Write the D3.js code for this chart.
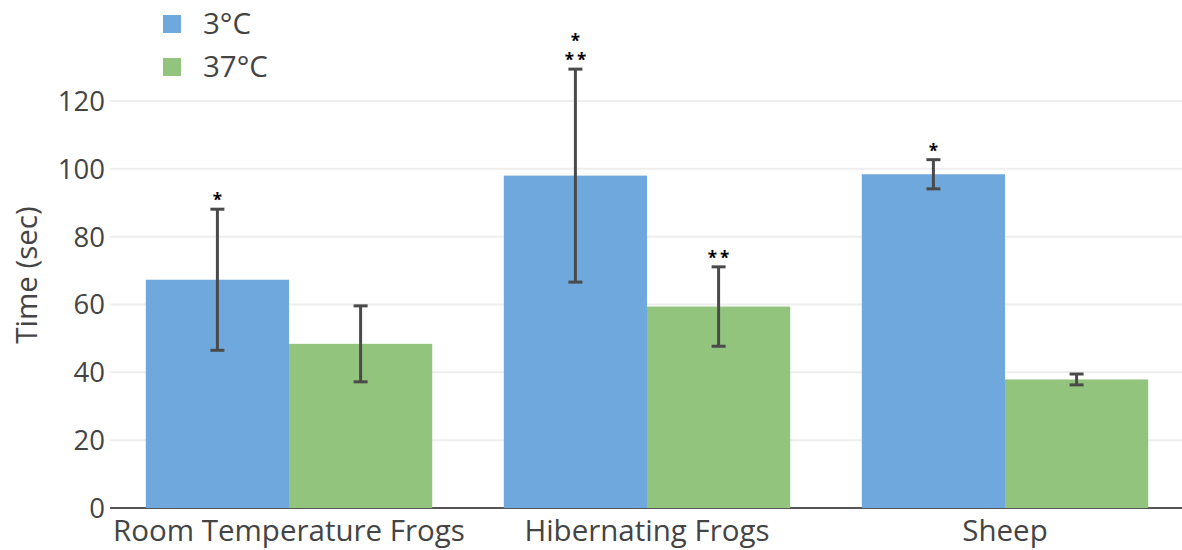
<!DOCTYPE html>
<html>
<head>
<meta charset="utf-8">
<script src="https://cdn.jsdelivr.net/npm/d3@7"></script>
<style>
  body { margin: 0; background: #fff; }
  svg { display: block; font-family: "Open Sans", sans-serif; }
</style>
</head>
<body>
<svg id="chart"></svg>
<script>
const categories = ["Room Temperature Frogs", "Hibernating Frogs", "Sheep"];
const seriesNames = ["3°C", "37°C"];
const coldValues = [67.3, 98.0, 98.4];
const coldErrors = [20.8, 31.4, 4.3];
const warmValues = [48.4, 59.4, 37.9];
const warmErrors = [11.2, 11.7, 1.6];
const coldStars = [["*"], ["*", "**"], ["*"]];
const warmStars = [[], ["**"], []];
const yTicks = [0, 20, 40, 60, 80, 100, 120];

const width = 1182, height = 550;
const margin = { top: 0, right: -2, bottom: 42, left: 110 };
const colors = ["#6fa8dc", "#93c47d"];
const labelSize = 29.5;

const svg = d3.select("#chart").attr("width", width).attr("height", height);

const x = d3.scaleBand()
    .domain(categories)
    .range([margin.left, width - margin.right])
    .paddingInner(0.2)
    .paddingOuter(0.1);

const xSub = d3.scaleBand()
    .domain(seriesNames)
    .range([0, x.bandwidth()]);

const y = d3.scaleLinear()
    .domain([0, 120])
    .range([508, 101]);

// grid
svg.append("g")
    .selectAll("line")
    .data(yTicks.filter(d => d > 0))
    .join("line")
    .attr("x1", margin.left)
    .attr("x2", width)
    .attr("y1", d => y(d))
    .attr("y2", d => y(d))
    .attr("stroke", "#eeeeee")
    .attr("stroke-width", 2);

// zero line
svg.append("line")
    .attr("x1", margin.left)
    .attr("x2", width)
    .attr("y1", y(0))
    .attr("y2", y(0))
    .attr("stroke", "#555")
    .attr("stroke-width", 2);

const series = [
    { name: seriesNames[0], values: coldValues, errors: coldErrors, stars: coldStars, color: colors[0] },
    { name: seriesNames[1], values: warmValues, errors: warmErrors, stars: warmStars, color: colors[1] }
];

const rows = [];
series.forEach(s => {
    categories.forEach((c, i) => {
        rows.push({ cat: c, name: s.name, value: s.values[i], err: s.errors[i], stars: s.stars[i], color: s.color });
    });
});

const cx = d => x(d.cat) + xSub(d.name) + xSub.bandwidth() / 2;

svg.append("g")
    .selectAll("rect")
    .data(rows)
    .join("rect")
    .attr("x", d => x(d.cat) + xSub(d.name))
    .attr("width", xSub.bandwidth())
    .attr("y", d => y(d.value))
    .attr("height", d => y(0) - y(d.value))
    .attr("fill", d => d.color);

// error bars
const err = svg.append("g")
    .attr("stroke", "#4a4a4a")
    .attr("stroke-width", 3);

err.selectAll(".stem")
    .data(rows)
    .join("line")
    .attr("x1", cx).attr("x2", cx)
    .attr("y1", d => y(d.value + d.err))
    .attr("y2", d => y(d.value - d.err));

err.selectAll(".capTop")
    .data(rows)
    .join("line")
    .attr("x1", d => cx(d) - 7).attr("x2", d => cx(d) + 7)
    .attr("y1", d => y(d.value + d.err))
    .attr("y2", d => y(d.value + d.err));

err.selectAll(".capBottom")
    .data(rows)
    .join("line")
    .attr("x1", d => cx(d) - 7).attr("x2", d => cx(d) + 7)
    .attr("y1", d => y(d.value - d.err))
    .attr("y2", d => y(d.value - d.err));

// significance marks, one text per bar, lines as tspans
svg.append("g")
    .attr("font-size", 17)
    .attr("font-weight", 700)
    .attr("letter-spacing", "3px")
    .attr("fill", "#000")
    .attr("text-anchor", "middle")
    .selectAll("text")
    .data(rows.filter(d => d.stars.length))
    .join("text")
    .each(function(d) {
        const n = d.stars.length;
        const t = d3.select(this);
        d.stars.forEach((s, k) => {
            t.append("tspan")
                .attr("x", cx(d) + 1.5)
                .attr("y", y(d.value + d.err) - 3 - (n - 1 - k) * 19)
                .text(s);
        });
    });

// y axis ticks
svg.append("g")
    .selectAll("text")
    .data(yTicks)
    .join("text")
    .attr("x", 105)
    .attr("y", d => y(d))
    .attr("dy", "0.36em")
    .attr("text-anchor", "end")
    .attr("font-size", 27.5)
    .attr("fill", "#444")
    .text(d => d);

// x labels
svg.append("g")
    .selectAll("text")
    .data(categories)
    .join("text")
    .attr("x", d => x(d) + x.bandwidth() / 2)
    .attr("y", 541)
    .attr("text-anchor", "middle")
    .attr("font-size", labelSize)
    .attr("fill", "#444")
    .text(d => d);

// y title
svg.append("text")
    .attr("transform", "translate(27,275) rotate(-90)")
    .attr("dy", "0.35em")
    .attr("text-anchor", "middle")
    .attr("font-size", labelSize)
    .attr("fill", "#444")
    .text("Time (sec)");

// legend
const legend = svg.append("g").attr("transform", "translate(163,0)");
seriesNames.forEach((name, i) => {
    const ly = 24 + i * 43;
    legend.append("rect")
        .attr("x", 0).attr("y", ly - 9)
        .attr("width", 18).attr("height", 18)
        .attr("fill", colors[i]);
    legend.append("text")
        .attr("x", 40).attr("y", ly)
        .attr("dy", "0.35em")
        .attr("font-size", labelSize)
        .attr("fill", "#444")
        .text(name);
});
</script>
</body>
</html>
